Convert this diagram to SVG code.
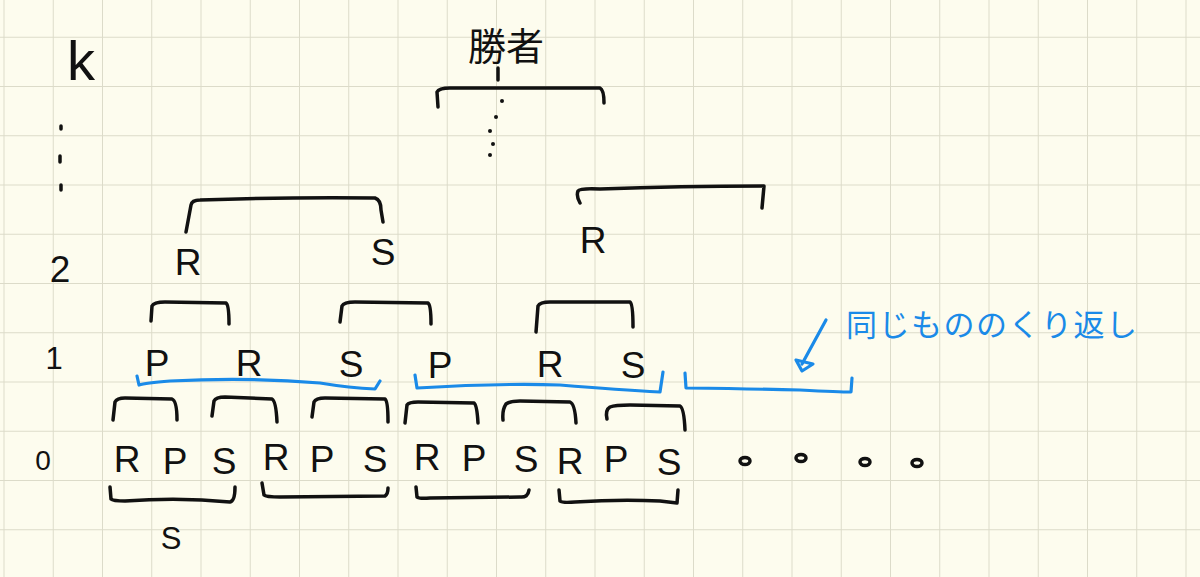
<svg xmlns="http://www.w3.org/2000/svg" width="1200" height="577" viewBox="0 0 1200 577">
<style>
.ink{fill:none;stroke:#111;stroke-width:3.5;stroke-linecap:round;stroke-linejoin:round}
.blue{fill:none;stroke:#1a8ae8;stroke-width:3.2;stroke-linecap:round;stroke-linejoin:round}
.lt{font-family:"Liberation Sans","Noto Sans",sans-serif;font-size:37px;fill:#111;text-anchor:middle}
.num{font-family:"Liberation Sans","Noto Sans",sans-serif;fill:#111;text-anchor:middle}
.jp{font-family:"Noto Sans CJK JP","Noto Sans",sans-serif;fill:#111}
.jpb{font-family:"Noto Sans CJK JP","Noto Sans",sans-serif;fill:#1a8ae8;font-size:31px}
</style>
<defs>
<pattern id="grid" patternUnits="userSpaceOnUse" x="3.5" y="-12.5" width="49.25" height="49.25">
<path d="M0,0 H49.25 M0,0 V49.25" stroke="#dcdbc9" stroke-width="2" fill="none"/>
</pattern>
</defs>
<rect width="1200" height="577" fill="#fdfcee"/>
<rect width="1200" height="577" fill="url(#grid)"/>

<g id="levels">
<text class="num" x="81" y="80" font-size="56">k</text>
<path class="ink" d="M61,126 L61,129 M60,156 L60,162 M61,185 L61,190" />
<text class="num" x="60" y="282" font-size="37">2</text>
<text class="num" x="54" y="369" font-size="31">1</text>
<text class="num" x="43" y="470" font-size="28">0</text>
</g>

<g id="winner">
<text class="jp" x="506" y="60" font-size="38" text-anchor="middle">勝者</text>
</g>

<g id="level2">
<text class="lt" x="188" y="275">R</text>
<text class="lt" x="383" y="265">S</text>
<text class="lt" x="593" y="253">R</text>
</g>

<g id="level1">
<text class="lt" x="157" y="376">P</text>
<text class="lt" x="249" y="376">R</text>
<text class="lt" x="351" y="377">S</text>
<text class="lt" x="440" y="378">P</text>
<text class="lt" x="550" y="377">R</text>
<text class="lt" x="633" y="378">S</text>
</g>

<g id="level0">
<text class="lt" x="127" y="472">R</text>
<text class="lt" x="175" y="474">P</text>
<text class="lt" x="224" y="474">S</text>
<text class="lt" x="276" y="470">R</text>
<text class="lt" x="322" y="472">P</text>
<text class="lt" x="375" y="472">S</text>
<text class="lt" x="427" y="470">R</text>
<text class="lt" x="474" y="471">P</text>
<text class="lt" x="526" y="472">S</text>
<text class="lt" x="570" y="474">R</text>
<text class="lt" x="616" y="472">P</text>
<text class="lt" x="669" y="475">S</text>
</g>

<g id="continuation">
<ellipse class="ink" cx="745" cy="461" rx="5" ry="3.5" stroke-width="2.8"/>
<ellipse class="ink" cx="801" cy="458" rx="5" ry="3.5" stroke-width="2.8"/>
<ellipse class="ink" cx="865" cy="462" rx="5" ry="3.5" stroke-width="2.8"/>
<ellipse class="ink" cx="917" cy="463" rx="5" ry="3.5" stroke-width="2.8"/>
</g>

<g id="bottom-result">
<text class="lt" x="171" y="549" style="font-size:31px">S</text>
</g>

<g id="annotation">
<text class="jpb" x="846" y="336" letter-spacing="1.5">同じもののくり返し</text>
</g>

<g id="connectors">
<path class="ink" d="M438,107 L437,92 Q439,88 450,88 L600,88 Q604,90 604,103"/>
<path class="ink" d="M498,68 L498,80"/>
<g fill="#111">
<circle cx="502" cy="101" r="2"/><circle cx="496" cy="117" r="2"/><circle cx="490" cy="131" r="2"/><circle cx="493" cy="144" r="2"/><circle cx="490" cy="155" r="2"/>
</g>
<path class="ink" d="M186,232 L191,205 Q192,200 200,200 Q290,197 375,198 Q381,200 381,210 L383,222"/>
<path class="ink" d="M580,203 Q576,196 578,191 Q580,188 600,189 Q680,186 764,186 L762,208"/>

<path class="ink" d="M151,321 L152,306 Q154,302 165,302 L226,303 Q229,305 229,324"/>
<path class="ink" d="M340,322 L342,306 Q344,302 355,302 L428,303 Q431,305 431,324"/>
<path class="ink" d="M536,332 L538,306 Q540,302 550,302 L630,302 Q633,304 633,327"/>

<path class="ink" d="M113,420 L115,402 Q117,398 125,398 L172,399 Q177,401 177,420"/>
<path class="ink" d="M212,416 L214,401 Q216,397 225,397 L272,399 Q276,401 277,422"/>
<path class="ink" d="M312,417 L314,402 Q316,398 325,398 L385,399 Q388,401 388,422"/>
<path class="ink" d="M405,423 L407,405 Q409,402 418,402 L474,403 Q477,405 478,423"/>
<path class="ink" d="M503,420 Q502,410 506,404 Q510,401 520,401 L570,402 Q575,404 576,423"/>
<path class="ink" d="M607,419 Q605,410 610,407 Q615,405 630,405 L680,406 Q684,408 685,430"/>

<path class="ink" d="M110,487 L111,499 Q113,501 125,501 Q180,497 230,502 Q235,501 235,487"/>
<path class="ink" d="M262,483 L264,495 Q266,497 280,497 L385,496 Q388,494 388,488"/>
<path class="ink" d="M416,487 L417,497 Q419,499 430,498 L520,497 Q528,498 529,490"/>
<path class="ink" d="M559,490 L560,501 Q562,503 575,502 Q620,499 660,501 L677,503 L678,490"/>

<path class="blue" d="M137,376 L139,385 Q145,383 170,381 Q250,377 320,383 Q350,388 375,389 L380,381"/>
<path class="blue" d="M415,375 L417,388 Q500,383 560,385 Q620,390 660,392 L663,372"/>
<path class="blue" d="M685,373 L686,388 Q760,389 800,390 Q840,392 851,392 L852,378"/>
<path class="blue" d="M826,320 L802,364"/>
<path class="blue" d="M796,360 L813,364 L802,371 Z"/>
</g>
</svg>
